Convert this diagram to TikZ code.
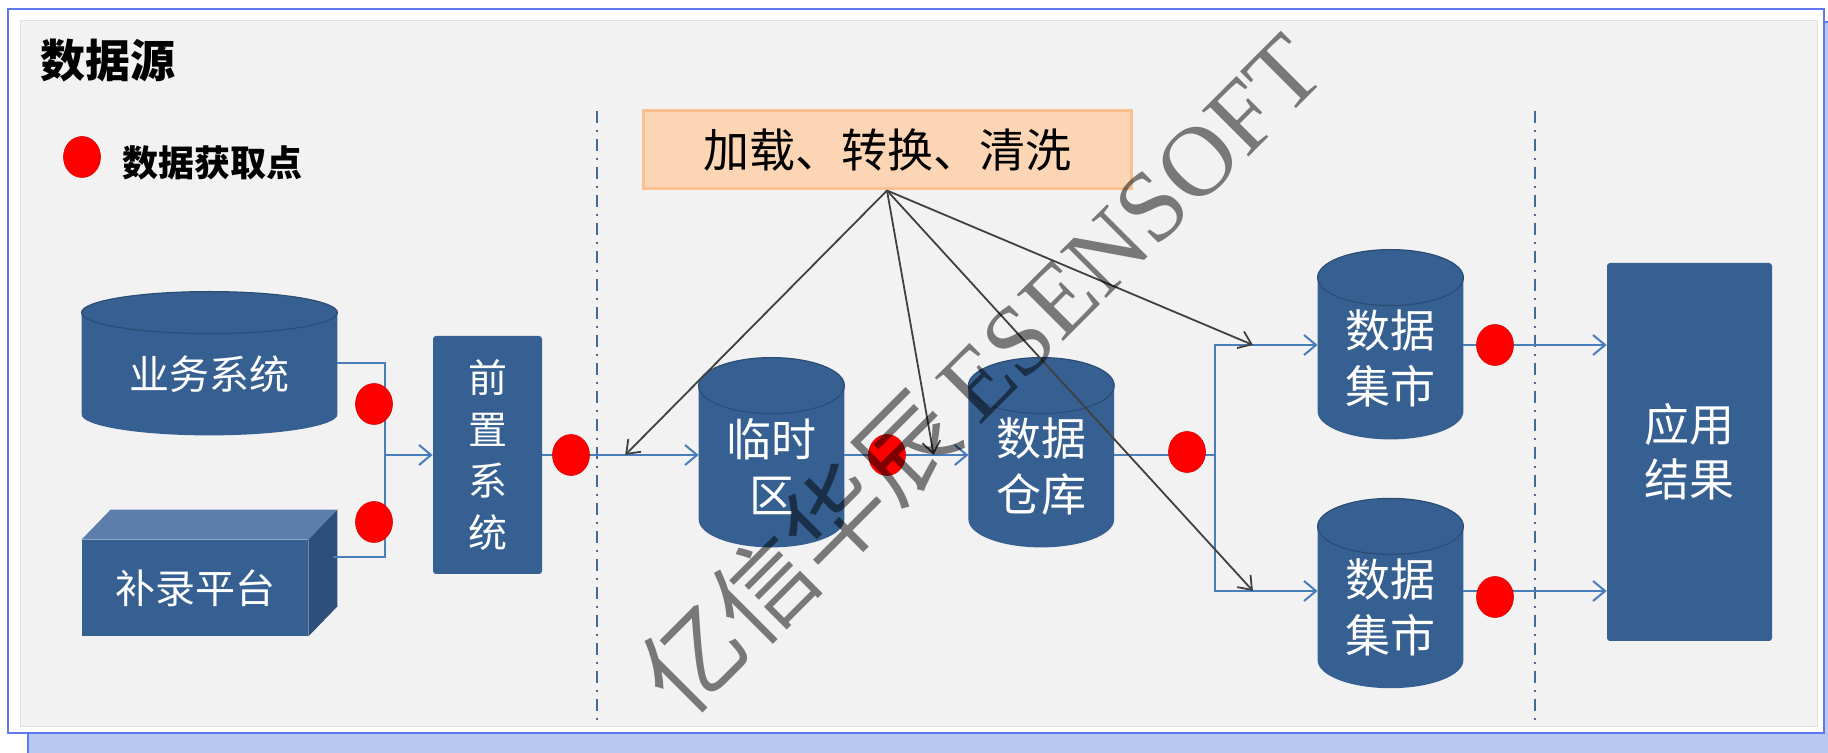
\documentclass[tikz,border=0pt]{standalone}
\usepackage{fontspec}
\setmainfont{Noto Sans CJK SC}
\newfontfamily\wmfont{Liberation Serif}
\usetikzlibrary{calc}
\usetikzlibrary{positioning}
\usetikzlibrary{arrows.meta}
\usetikzlibrary{backgrounds}
\usetikzlibrary{shapes.geometric}
\definecolor{dbblue}{RGB}{54,96,146}
\definecolor{boxtop}{RGB}{91,126,172}
\definecolor{boxside}{RGB}{44,79,124}
\definecolor{dotred}{RGB}{255,0,0}
\definecolor{flowblue}{RGB}{74,126,187}
\definecolor{arrgray}{RGB}{64,64,64}
\definecolor{sepblue}{RGB}{70,105,150}
\definecolor{etlfill}{RGB}{252,213,181}
\definecolor{etlline}{RGB}{250,192,144}
\definecolor{panel}{RGB}{242,242,242}
\definecolor{frameblue}{RGB}{95,120,240}
\definecolor{backblue}{RGB}{183,201,238}

\begin{document}
\begin{tikzpicture}[x=0.5pt,y=-0.5pt,
    every node/.style={inner sep=0pt},
    db/.style={minimum width=72.5pt,minimum height=80.5pt,align=center,text=white,
      font=\fontsize{22.5pt}{28pt}\selectfont},
    blk/.style={fill=dbblue,rounded corners=1.5pt,align=center,text=white},
    getpt/.style={ellipse,fill=dotred,draw=dotred!85!black,line width=0.3pt,
      minimum width=18.5pt,minimum height=20.5pt},
    wire/.style={draw=flowblue,line width=1pt},
    flow/.style={wire,-{Straight Barb[length=6pt,width=10pt]}},
    etlarrow/.style={draw=arrgray,line width=0.9pt,-{Straight Barb[length=6pt,width=9pt]}},
    capline/.style={draw=dbblue!80!black,line width=0.6pt},
    divider/.style={draw=sepblue,line width=1.3pt,dash pattern=on 6pt off 3.5pt on 1pt off 3.5pt}
  ]
  \useasboundingbox (0,0) rectangle (1828,753);
  \begin{scope}[on background layer]
    \filldraw[fill=backblue,draw=frameblue,line width=1.2pt] (28,22) rectangle (1845,770);
    \filldraw[fill=white,draw=frameblue,line width=1.2pt] (8,9) rectangle (1824,733);
    \filldraw[fill=panel,draw=black!12,line width=0.5pt] (20,21) rectangle (1817,727);
  \end{scope}

  \draw[divider] (597,111) -- (597,725);
  \draw[divider] (1535,111) -- (1535,725);

  \node[anchor=west,font=\fontsize{22.5pt}{27pt}\selectfont\bfseries] (title) at (40,61) {数据源};
  \node[getpt] (key) at (82,157) {};
  \node[right=10.5pt of key,yshift=-3pt,font=\fontsize{18pt}{22pt}\selectfont\bfseries] (keytxt) {数据获取点};

  \node[fill=etlfill,draw=etlline,line width=1.5pt,minimum width=244pt,minimum height=39pt,
    font=\fontsize{23pt}{27pt}\selectfont] (etl) at (887,150) {加载、转换、清洗};

  \node[db,minimum width=127.5pt,minimum height=61pt,font=\fontsize{20pt}{24pt}\selectfont] (src) at (209.5,374) {业务系统};
  \node[blk,rounded corners=0pt,minimum width=113pt,minimum height=48pt,font=\fontsize{20pt}{24pt}\selectfont] (inp) at (195,588) {补录平台};
  \node[blk,minimum width=54.5pt,minimum height=119pt,font=\fontsize{19.5pt}{25.75pt}\selectfont] (pre) at (487.5,455) {前\\置\\系\\统};
  \node[db] (tmp) at (771.5,466.5) {临时\\区};
  \node[db,right=62pt of tmp] (dw) {数据\\仓库};
  \node[db] (dm1) at (1390.5,358.5) {数据\\集市};
  \node[db,below=43.5pt of dm1] (dm2) {数据\\集市};
  \node[blk,minimum width=82.5pt,minimum height=189pt,font=\fontsize{22.5pt}{27.5pt}\selectfont] (app) at (1689.5,452) {应用\\结果};

  \fill[boxtop] (inp.north west) -- ++(29,-30) -- ($(inp.north east)+(29,-30)$) -- (inp.north east) -- cycle;
  \fill[boxside] (inp.north east) -- ++(29,-30) -- ($(inp.south east)+(29,-30)$) -- (inp.south east) -- cycle;

  \begin{scope}[on background layer]
    \foreach \s/\r in {src/10.5pt,tmp/14pt,dw/14pt,dm1/14pt,dm2/14pt}{
      \fill[dbblue] let \p1=(\s.south west), \p2=(\s.north east), \n1={(\x2-\x1)/2} in
        (\x1,\y2) -- (\x1,\y1+\r) arc[start angle=180,end angle=360,x radius=\n1,y radius=\r]
        -- (\x2,\y2) arc[start angle=0,end angle=180,x radius=\n1,y radius=\r] -- cycle;
      \draw[capline] let \p1=(\s.south west), \p2=(\s.north east), \n1={(\x2-\x1)/2} in
        ({(\x1+\x2)/2},\y2) ellipse[x radius=\n1,y radius=\r];
    }
  \end{scope}

  \coordinate (j1) at (385,455);
  \coordinate (j2) at (1215,455);
  \coordinate (r1) at (1215,345);
  \coordinate (r2) at (1215,591);
  \draw[wire] ($(src.east)+(0,-11)$) -| (j1);
  \draw[wire] ($(inp.north east)+(25,17)$) -| (j1);
  \draw[flow] (j1) -- (pre);
  \draw[flow] (pre) -- (tmp.west |- pre);
  \draw[flow] (tmp.east |- pre) -- (dw.west |- pre);
  \draw[wire] (dw.east |- pre) -- (j2);
  \draw[flow] (j2) -- (r1) -- (dm1.west |- r1);
  \draw[flow] (j2) -- (r2) -- (dm2.west |- r2);
  \draw[flow] (dm1.east |- r1) -- (app.west |- r1);
  \draw[flow] (dm2.east |- r2) -- (app.west |- r2);

  \node[getpt] (d1) at (374,404) {};
  \node[getpt] (d2) at (374,522) {};
  \node[getpt] (d3) at (571,455) {};
  \node[getpt] (d4) at (887,455) {};
  \node[getpt] (d5) at (1187,452) {};
  \node[getpt] (d6) at (1495,345) {};
  \node[getpt] (d7) at (1495,597) {};

  \coordinate (g1) at ($(pre.east)!0.53!(tmp.west |- pre)$);
  \coordinate (g2) at ($(tmp.east |- pre)!0.72!(dw.west |- pre)$);
  \coordinate (g3) at ($(r1)!0.37!(dm1.west |- r1)$);
  \coordinate (g4) at ($(r2)!0.37!(dm2.west |- r2)$);
  \foreach \g in {g1,g2,g3,g4}
    \draw[etlarrow] (etl.south) -- (\g);

  \node[rotate=45,text=black,text opacity=0.5,font=\fontsize{50pt}{50pt}\selectfont] (wm) at (980,372) {亿信华辰\,{\wmfont ESENSOFT}};
\end{tikzpicture}
\end{document}
